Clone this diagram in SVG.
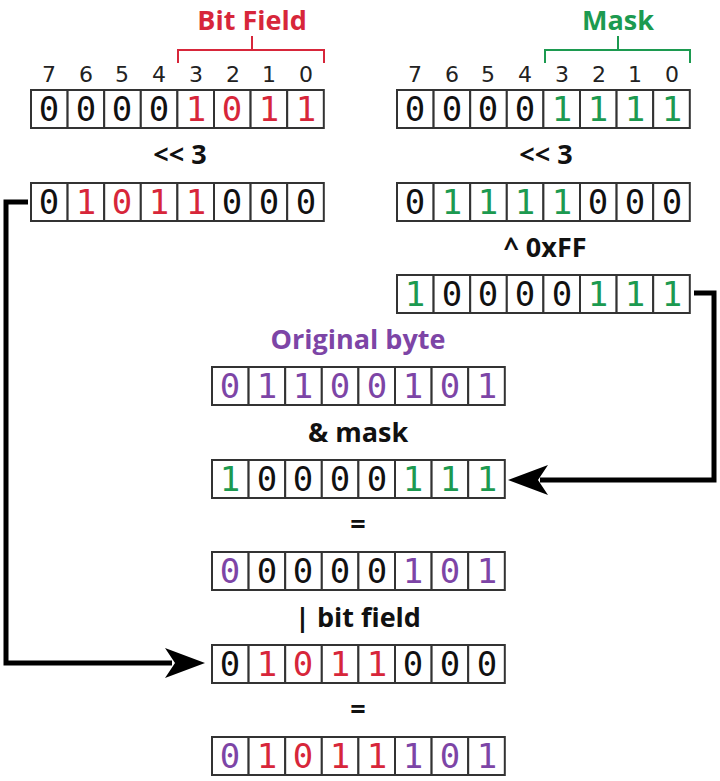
<svg xmlns="http://www.w3.org/2000/svg" width="720" height="781" viewBox="0 0 720 781">
<defs>
<style>
.c{fill:#fff;stroke:#333;stroke-width:2}
.d{font-family:"DejaVu Sans Mono",monospace;font-size:34px;text-anchor:middle}
.n{font-family:"DejaVu Sans",sans-serif;font-size:22px;text-anchor:middle;fill:#222}
.l{font-family:"Open Sans","Liberation Sans",sans-serif;font-weight:bold;font-size:27px;text-anchor:middle}
.k{fill:#111}.r{fill:#d7263a}.g{fill:#1c9a50}.p{fill:#7d45a6}
.br{fill:none;stroke-width:2}
.w{fill:none;stroke:#000;stroke-width:5}
</style>
</defs>
<g id="labels">
<text class="l r" x="252" y="30">Bit Field</text>
<path class="br" stroke="#d7263a" d="M178,63 V50 H324 V63 M252,50 V36"/>
<text class="l g" x="618" y="30">Mask</text>
<path class="br" stroke="#1c9a50" d="M545,63 V50 H690 V63 M618,50 V36"/>
<g class="n">
<text x="49" y="82">7</text><text x="86" y="82">6</text><text x="122" y="82">5</text><text x="159" y="82">4</text><text x="196" y="82">3</text><text x="233" y="82">2</text><text x="269" y="82">1</text><text x="306" y="82">0</text>
<text x="415" y="82">7</text><text x="452" y="82">6</text><text x="488" y="82">5</text><text x="525" y="82">4</text><text x="562" y="82">3</text><text x="599" y="82">2</text><text x="635" y="82">1</text><text x="672" y="82">0</text>
</g>
<text class="l k" x="180" y="164">&lt;&lt; 3</text>
<text class="l k" x="546" y="164">&lt;&lt; 3</text>
<text class="l k" x="545" y="257">^ 0xFF</text>
<text class="l p" x="358" y="349">Original byte</text>
<text class="l k" x="358" y="442">&amp; mask</text>
<text class="l k" x="358" y="534">=</text>
<text class="l k" x="358" y="627">| bit field</text>
<text class="l k" x="358" y="719">=</text>
</g>
<g id="connectors">
<path class="w" d="M28,202 H6 V663 H172"/>
<path d="M205,663 L165,648 L175,663 L165,678 Z"/>
<path class="w" d="M694,293 H714 V480 H540"/>
<path d="M508,480 L548,465 L538,480 L548,495 Z"/>
</g>
<g id="byte1" transform="translate(31,90)">
<g class="c"><rect x="0" y="0" width="36.6" height="38"/><rect x="36.6" width="36.6" height="38"/><rect x="73.2" width="36.6" height="38"/><rect x="109.8" width="36.6" height="38"/><rect x="146.4" width="36.6" height="38"/><rect x="183" width="36.6" height="38"/><rect x="219.6" width="36.6" height="38"/><rect x="256.2" width="36.6" height="38"/></g>
<g class="d"><text class="k" x="18" y="31">0</text><text class="k" x="55" y="31">0</text><text class="k" x="91" y="31">0</text><text class="k" x="128" y="31">0</text><text class="r" x="165" y="31">1</text><text class="r" x="201" y="31">0</text><text class="r" x="238" y="31">1</text><text class="r" x="275" y="31">1</text></g>
</g>
<g id="byte2" transform="translate(31,183)">
<g class="c"><rect x="0" y="0" width="36.6" height="38"/><rect x="36.6" width="36.6" height="38"/><rect x="73.2" width="36.6" height="38"/><rect x="109.8" width="36.6" height="38"/><rect x="146.4" width="36.6" height="38"/><rect x="183" width="36.6" height="38"/><rect x="219.6" width="36.6" height="38"/><rect x="256.2" width="36.6" height="38"/></g>
<g class="d"><text class="k" x="18" y="31">0</text><text class="r" x="55" y="31">1</text><text class="r" x="91" y="31">0</text><text class="r" x="128" y="31">1</text><text class="r" x="165" y="31">1</text><text class="k" x="201" y="31">0</text><text class="k" x="238" y="31">0</text><text class="k" x="275" y="31">0</text></g>
</g>
<g id="mask1" transform="translate(397,90)">
<g class="c"><rect x="0" y="0" width="36.6" height="38"/><rect x="36.6" width="36.6" height="38"/><rect x="73.2" width="36.6" height="38"/><rect x="109.8" width="36.6" height="38"/><rect x="146.4" width="36.6" height="38"/><rect x="183" width="36.6" height="38"/><rect x="219.6" width="36.6" height="38"/><rect x="256.2" width="36.6" height="38"/></g>
<g class="d"><text class="k" x="18" y="31">0</text><text class="k" x="55" y="31">0</text><text class="k" x="91" y="31">0</text><text class="k" x="128" y="31">0</text><text class="g" x="165" y="31">1</text><text class="g" x="201" y="31">1</text><text class="g" x="238" y="31">1</text><text class="g" x="275" y="31">1</text></g>
</g>
<g id="mask2" transform="translate(397,183)">
<g class="c"><rect x="0" y="0" width="36.6" height="38"/><rect x="36.6" width="36.6" height="38"/><rect x="73.2" width="36.6" height="38"/><rect x="109.8" width="36.6" height="38"/><rect x="146.4" width="36.6" height="38"/><rect x="183" width="36.6" height="38"/><rect x="219.6" width="36.6" height="38"/><rect x="256.2" width="36.6" height="38"/></g>
<g class="d"><text class="k" x="18" y="31">0</text><text class="g" x="55" y="31">1</text><text class="g" x="91" y="31">1</text><text class="g" x="128" y="31">1</text><text class="g" x="165" y="31">1</text><text class="k" x="201" y="31">0</text><text class="k" x="238" y="31">0</text><text class="k" x="275" y="31">0</text></g>
</g>
<g id="mask3" transform="translate(397,275)">
<g class="c"><rect x="0" y="0" width="36.6" height="38"/><rect x="36.6" width="36.6" height="38"/><rect x="73.2" width="36.6" height="38"/><rect x="109.8" width="36.6" height="38"/><rect x="146.4" width="36.6" height="38"/><rect x="183" width="36.6" height="38"/><rect x="219.6" width="36.6" height="38"/><rect x="256.2" width="36.6" height="38"/></g>
<g class="d"><text class="g" x="18" y="31">1</text><text class="k" x="55" y="31">0</text><text class="k" x="91" y="31">0</text><text class="k" x="128" y="31">0</text><text class="k" x="165" y="31">0</text><text class="g" x="201" y="31">1</text><text class="g" x="238" y="31">1</text><text class="g" x="275" y="31">1</text></g>
</g>
<g id="orig" transform="translate(212,367)">
<g class="c"><rect x="0" y="0" width="36.6" height="38"/><rect x="36.6" width="36.6" height="38"/><rect x="73.2" width="36.6" height="38"/><rect x="109.8" width="36.6" height="38"/><rect x="146.4" width="36.6" height="38"/><rect x="183" width="36.6" height="38"/><rect x="219.6" width="36.6" height="38"/><rect x="256.2" width="36.6" height="38"/></g>
<g class="d p"><text x="18" y="31">0</text><text x="55" y="31">1</text><text x="91" y="31">1</text><text x="128" y="31">0</text><text x="165" y="31">0</text><text x="201" y="31">1</text><text x="238" y="31">0</text><text x="275" y="31">1</text></g>
</g>
<g id="andmask" transform="translate(212,460)">
<g class="c"><rect x="0" y="0" width="36.6" height="38"/><rect x="36.6" width="36.6" height="38"/><rect x="73.2" width="36.6" height="38"/><rect x="109.8" width="36.6" height="38"/><rect x="146.4" width="36.6" height="38"/><rect x="183" width="36.6" height="38"/><rect x="219.6" width="36.6" height="38"/><rect x="256.2" width="36.6" height="38"/></g>
<g class="d"><text class="g" x="18" y="31">1</text><text class="k" x="55" y="31">0</text><text class="k" x="91" y="31">0</text><text class="k" x="128" y="31">0</text><text class="k" x="165" y="31">0</text><text class="g" x="201" y="31">1</text><text class="g" x="238" y="31">1</text><text class="g" x="275" y="31">1</text></g>
</g>
<g id="cleared" transform="translate(212,552)">
<g class="c"><rect x="0" y="0" width="36.6" height="38"/><rect x="36.6" width="36.6" height="38"/><rect x="73.2" width="36.6" height="38"/><rect x="109.8" width="36.6" height="38"/><rect x="146.4" width="36.6" height="38"/><rect x="183" width="36.6" height="38"/><rect x="219.6" width="36.6" height="38"/><rect x="256.2" width="36.6" height="38"/></g>
<g class="d"><text class="p" x="18" y="31">0</text><text class="k" x="55" y="31">0</text><text class="k" x="91" y="31">0</text><text class="k" x="128" y="31">0</text><text class="k" x="165" y="31">0</text><text class="p" x="201" y="31">1</text><text class="p" x="238" y="31">0</text><text class="p" x="275" y="31">1</text></g>
</g>
<g id="bitfield" transform="translate(212,645)">
<g class="c"><rect x="0" y="0" width="36.6" height="38"/><rect x="36.6" width="36.6" height="38"/><rect x="73.2" width="36.6" height="38"/><rect x="109.8" width="36.6" height="38"/><rect x="146.4" width="36.6" height="38"/><rect x="183" width="36.6" height="38"/><rect x="219.6" width="36.6" height="38"/><rect x="256.2" width="36.6" height="38"/></g>
<g class="d"><text class="k" x="18" y="31">0</text><text class="r" x="55" y="31">1</text><text class="r" x="91" y="31">0</text><text class="r" x="128" y="31">1</text><text class="r" x="165" y="31">1</text><text class="k" x="201" y="31">0</text><text class="k" x="238" y="31">0</text><text class="k" x="275" y="31">0</text></g>
</g>
<g id="result" transform="translate(212,737)">
<g class="c"><rect x="0" y="0" width="36.6" height="38"/><rect x="36.6" width="36.6" height="38"/><rect x="73.2" width="36.6" height="38"/><rect x="109.8" width="36.6" height="38"/><rect x="146.4" width="36.6" height="38"/><rect x="183" width="36.6" height="38"/><rect x="219.6" width="36.6" height="38"/><rect x="256.2" width="36.6" height="38"/></g>
<g class="d"><text class="p" x="18" y="31">0</text><text class="r" x="55" y="31">1</text><text class="r" x="91" y="31">0</text><text class="r" x="128" y="31">1</text><text class="r" x="165" y="31">1</text><text class="p" x="201" y="31">1</text><text class="p" x="238" y="31">0</text><text class="p" x="275" y="31">1</text></g>
</g>
</svg>
